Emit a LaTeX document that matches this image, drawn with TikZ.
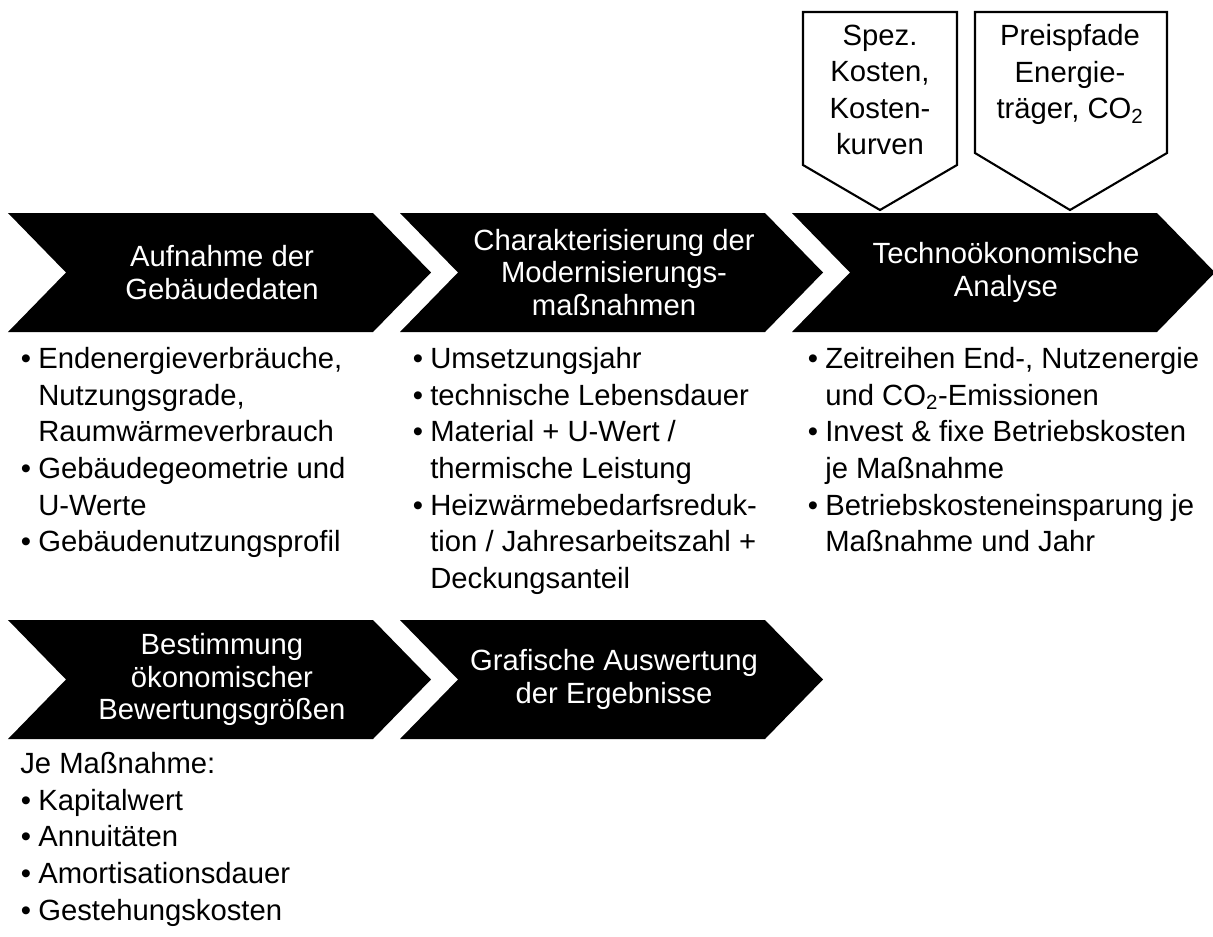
\documentclass[tikz,border=0pt]{standalone}
\usepackage{fontspec}
\setmainfont{Liberation Sans}
\newcommand\blt{\llap{\textbullet\hspace{0.18cm}}}
\tikzset{
  chevron/.style={fill=black},
  chevtext/.style={text=white, align=center, inner sep=0pt, font=\fontsize{20.8}{23}\selectfont},
  listtext/.style={anchor=north west, align=left, inner sep=0pt, execute at begin node=\strut},
  inputbox/.style={draw=black, line width=1.5pt, fill=white, line join=miter},
  inputtext/.style={anchor=north, align=center, inner sep=0pt, execute at begin node=\strut}
}
\begin{document}
\begin{tikzpicture}[font=\fontsize{20.8}{26}\selectfont]
    \useasboundingbox (0,0) rectangle (30.325,-23.4);
    % Inputs from above
    \draw[inputbox] (20.075,-0.3) -- (23.925,-0.3) -- (23.925,-4.125) -- (22.0,-5.25) -- (20.075,-4.125) -- cycle;
    \node[inputtext] (kosten) at (22.0,-0.608) {Spez.\\Kosten,\\Kosten-\\kurven};
    \draw[inputbox] (24.375,-0.3) -- (29.175,-0.3) -- (29.175,-3.825) -- (26.75,-5.25) -- (24.375,-3.825) -- cycle;
    \node[inputtext] (preise) at (26.75,-0.608) {Preispfade\\Energie-\\träger, CO\textsubscript{2}};
    % Row 1
    \fill[chevron] (0.2,-5.325) -- ++(9.125,0) -- ++(1.45,-1.4875) -- ++(-1.45,-1.4875) -- ++(-9.125,0) -- ++(1.45,1.4875) -- cycle;
    \node[chevtext] (aufnahme) at (5.55,-6.8125) {Aufnahme der\\Gebäudedaten};
    \fill[chevron] (10.0,-5.325) -- ++(9.125,0) -- ++(1.45,-1.4875) -- ++(-1.45,-1.4875) -- ++(-9.125,0) -- ++(1.45,1.4875) -- cycle;
    \node[chevtext] (massnahmen) at (15.35,-6.8125) {Charakterisierung der\\Modernisierungs-\\maßnahmen};
    \fill[chevron] (19.8,-5.325) -- ++(9.125,0) -- ++(1.45,-1.4875) -- ++(-1.45,-1.4875) -- ++(-9.125,0) -- ++(1.45,1.4875) -- cycle;
    \node[chevtext] (analyse) at (25.15,-6.8125) {Technoökonomische\\Analyse};
    % Lists row 1
    \node[listtext] (aufnahmeList) at (0.95,-8.683) {\blt Endenergieverbräuche,\\Nutzungsgrade,\\Raumwärmeverbrauch\\\blt Gebäudegeometrie und\\U-Werte\\\blt Gebäudenutzungsprofil};
    \node[listtext] (massnahmenList) at (10.75,-8.683) {\blt Umsetzungsjahr\\\blt technische Lebensdauer\\\blt Material + U-Wert /\\thermische Leistung\\\blt Heizwärmebedarfsreduk-\\tion / Jahresarbeitszahl +\\Deckungsanteil};
    \node[listtext] (analyseList) at (20.625,-8.683) {\blt Zeitreihen End-, Nutzenergie\\und CO\textsubscript{2}-Emissionen\\\blt Invest \& fixe Betriebskosten\\je Maßnahme\\\blt Betriebskosteneinsparung je\\Maßnahme und Jahr};
    % Row 2
    \fill[chevron] (0.2,-15.5) -- ++(9.125,0) -- ++(1.45,-1.4875) -- ++(-1.45,-1.4875) -- ++(-9.125,0) -- ++(1.45,1.4875) -- cycle;
    \node[chevtext] (bewertung) at (5.55,-16.9875) {Bestimmung\\ökonomischer\\Bewertungsgrößen};
    \fill[chevron] (10.0,-15.5) -- ++(9.125,0) -- ++(1.45,-1.4875) -- ++(-1.45,-1.4875) -- ++(-9.125,0) -- ++(1.45,1.4875) -- cycle;
    \node[chevtext] (auswertung) at (15.35,-16.9875) {Grafische Auswertung\\der Ergebnisse};
    % List row 2
    \node[listtext] (bewertungList) at (0.5,-18.808) {Je Maßnahme:\\\hspace*{0.45cm}\blt Kapitalwert\\\hspace*{0.45cm}\blt Annuitäten\\\hspace*{0.45cm}\blt Amortisationsdauer\\\hspace*{0.45cm}\blt Gestehungskosten};
\end{tikzpicture}
\end{document}
